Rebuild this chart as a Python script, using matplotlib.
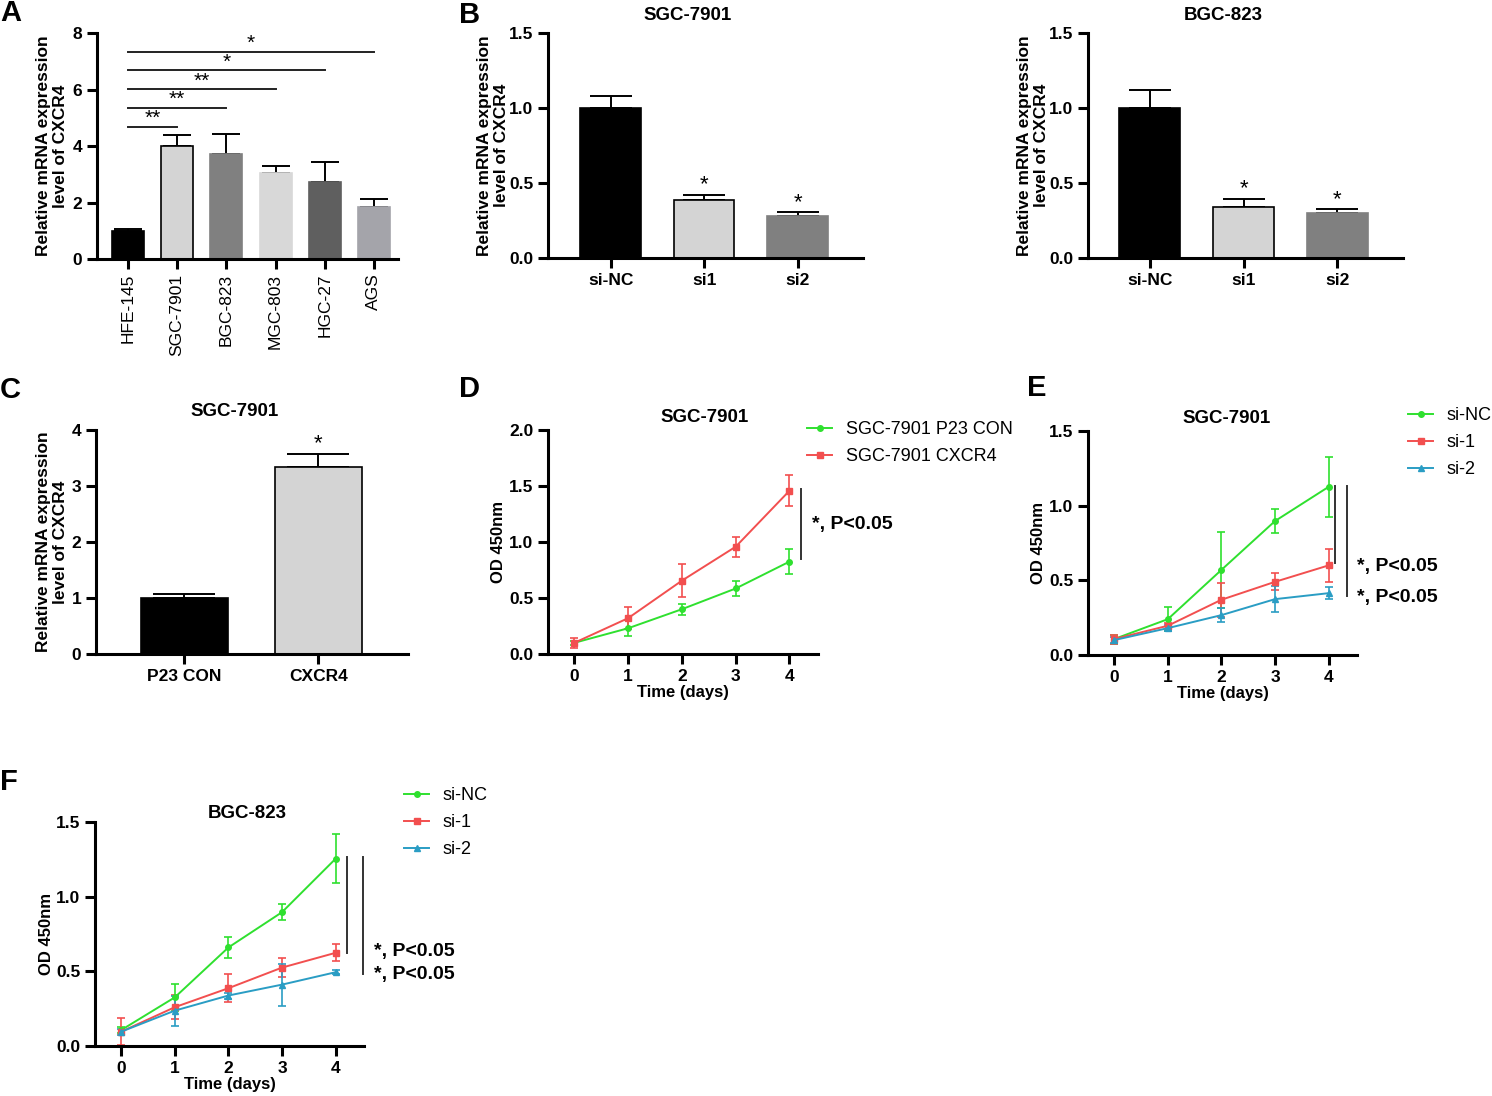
import numpy as np
import matplotlib
matplotlib.use("Agg")
import matplotlib.pyplot as plt

plt.rcParams['font.family'] = ['Liberation Sans', 'DejaVu Sans']

W, H = 1492, 1096

# ---- data ----
# A: CXCR4 expression across cell lines
a_cells = ['HFE-145', 'SGC-7901', 'BGC-823', 'MGC-803', 'HGC-27', 'AGS']
a_vals = [1.0, 3.99, 3.71, 3.04, 2.72, 1.85]
a_errs = [0.06, 0.41, 0.70, 0.26, 0.72, 0.29]
a_colors = ['#000000', '#d4d4d4', '#808080', '#d8d8d8', '#5f5f5f', '#a4a4aa']
a_edges = ['#000000', '#000000', '#808080', '#d8d8d8', '#5f5f5f', '#a4a4aa']
a_sig_to = [1, 2, 3, 4, 5]
a_sig_y = [4.68, 5.35, 6.02, 6.68, 7.34]
a_sig_txt = ['**', '**', '**', '*', '*']

# B: knockdown
b_groups = ['si-NC', 'si1', 'si2']
b1_vals = [1.0, 0.39, 0.28]
b1_errs = [0.08, 0.033, 0.027]
b2_vals = [1.0, 0.34, 0.30]
b2_errs = [0.12, 0.055, 0.026]
b_colors = ['#000000', '#d4d4d4', '#808080']
b_edges = ['#000000', '#000000', '#808080']

# C: overexpression
c_groups = ['P23 CON', 'CXCR4']
c_vals = [1.0, 3.34]
c_errs = [0.08, 0.24]
c_colors = ['#000000', '#d4d4d4']

days = [0, 1, 2, 3, 4]
# D
d_con = [0.10, 0.23, 0.40, 0.585, 0.825]
d_con_err = [0.02, 0.07, 0.05, 0.065, 0.11]
d_cx = [0.10, 0.32, 0.655, 0.958, 1.458]
d_cx_err = [0.045, 0.10, 0.15, 0.09, 0.14]
# E
e_nc = [0.107, 0.24, 0.57, 0.897, 1.126]
e_nc_err = [0.03, 0.08, 0.256, 0.078, 0.20]
e_s1 = [0.107, 0.196, 0.37, 0.49, 0.60]
e_s1_err = [0.03, 0.02, 0.115, 0.058, 0.108]
e_s2 = [0.10, 0.18, 0.267, 0.374, 0.414]
e_s2_err = [0.02, 0.02, 0.045, 0.085, 0.04]
# F
f_nc = [0.107, 0.326, 0.66, 0.896, 1.254]
f_nc_err = [0.02, 0.09, 0.073, 0.054, 0.163]
f_s1 = [0.096, 0.26, 0.387, 0.525, 0.624]
f_s1_err = [0.09, 0.08, 0.094, 0.063, 0.058]
f_s2 = [0.096, 0.237, 0.338, 0.411, 0.494]
f_s2_err = [0.02, 0.10, 0.02, 0.14, 0.015]

GREEN = '#2fe02f'
RED = '#f24f4f'
BLUE = '#2a9dc4'

fig = plt.figure(figsize=(W / 100, H / 100), dpi=100)


def add_ax(l, t, r, b):
    return fig.add_axes([l / W, 1 - b / H, (r - l) / W, (b - t) / H])


def style(ax):
    for s in ['top', 'right']:
        ax.spines[s].set_visible(False)
    for s in ['left', 'bottom']:
        ax.spines[s].set_linewidth(2.2)
    ax.tick_params(width=2.2, length=7, direction='out', labelsize=12.5)
    for lab in ax.get_yticklabels():
        lab.set_fontweight('bold')


def ylab(ax, text, right_px, size=12.5):
    ax.set_ylabel(text, fontsize=size, fontweight='bold', linespacing=1.2)
    pos = ax.get_position()
    l = pos.x0 * W
    w = pos.width * W
    ax.yaxis.set_label_coords((right_px - l) / w, 0.5)


def ftext(x, y, s, **kw):
    fig.text(x / W, 1 - y / H, s, **kw)


def bar_panel(ax, vals, errs, colors, edges, labels, capsize, bold=True):
    x = np.arange(len(vals))
    ax.bar(x, vals, width=0.65, color=colors, edgecolor=edges, linewidth=1.2, zorder=2)
    ax.errorbar(x, vals, yerr=[np.zeros(len(vals)), errs], fmt='none', ecolor='black',
                elinewidth=1.4, capsize=capsize, capthick=1.4, zorder=1)
    ax.set_xticks(x)
    ax.set_xticklabels(labels, fontweight='bold' if bold else 'normal')
    return x


# ---- A ----
axA = add_ax(97, 33, 398, 259)
style(axA)
xa = bar_panel(axA, a_vals, a_errs, a_colors, a_edges, a_cells, 10, bold=False)
axA.set_xlim(-0.63, 5.49)
axA.set_ylim(0, 8)
axA.set_yticks([0, 2, 4, 6, 8])
for lab in axA.get_xticklabels():
    lab.set_rotation(90)
    lab.set_fontsize(12.5)
for j, yy, t in zip(a_sig_to, a_sig_y, a_sig_txt):
    axA.plot([0, j], [yy, yy], color='#222222', lw=1.4, clip_on=False)
    axA.text(j / 2, yy - 0.05, t, ha='center', va='bottom', fontsize=15)
ylab(axA, 'Relative mRNA expression\nlevel of CXCR4', 68)

# ---- B ----
axB1 = add_ax(548, 33, 863, 258)
style(axB1)
xb = bar_panel(axB1, b1_vals, b1_errs, b_colors, b_edges, b_groups, 15)
axB1.set_xlim(-0.67, 2.7)
axB1.set_ylim(0, 1.5)
axB1.set_yticks([0, 0.5, 1.0, 1.5])
axB1.set_yticklabels(['0.0', '0.5', '1.0', '1.5'], fontweight='bold')
for i in [1, 2]:
    axB1.text(xb[i], b1_vals[i] + b1_errs[i] - 0.005, '*', ha='center', va='bottom', fontsize=16)
ylab(axB1, 'Relative mRNA expression\nlevel of CXCR4', 509)
ftext(688, 15, 'SGC-7901', ha='center', va='center', fontsize=13.5, fontweight='bold')

axB2 = add_ax(1088, 33, 1403, 258)
style(axB2)
xb = bar_panel(axB2, b2_vals, b2_errs, b_colors, b_edges, b_groups, 15)
axB2.set_xlim(-0.66, 2.7)
axB2.set_ylim(0, 1.5)
axB2.set_yticks([0, 0.5, 1.0, 1.5])
axB2.set_yticklabels(['0.0', '0.5', '1.0', '1.5'], fontweight='bold')
for i in [1, 2]:
    axB2.text(xb[i], b2_vals[i] + b2_errs[i] - 0.005, '*', ha='center', va='bottom', fontsize=16)
ylab(axB2, 'Relative mRNA expression\nlevel of CXCR4', 1049)
ftext(1223, 15, 'BGC-823', ha='center', va='center', fontsize=13.5, fontweight='bold')

# ---- C ----
axC = add_ax(96, 430, 408, 654)
style(axC)
xc = bar_panel(axC, c_vals, c_errs, c_colors, ['#000000', '#000000'], c_groups, 22)
axC.set_xlim(-0.66, 1.67)
axC.set_ylim(0, 4)
axC.set_yticks([0, 1, 2, 3, 4])
axC.set_yticklabels(['0', '1', '2', '3', '4'], fontweight='bold')
axC.text(xc[1], c_vals[1] + c_errs[1] - 0.02, '*', ha='center', va='bottom', fontsize=16)
ylab(axC, 'Relative mRNA expression\nlevel of CXCR4', 68)
ftext(235, 412, 'SGC-7901', ha='center', va='center', fontsize=13.5, fontweight='bold')


# ---- line panels ----
def series(ax, y, err, color, marker, label, ms):
    ax.errorbar(days, y, yerr=err, fmt='none', ecolor=color, elinewidth=1.2,
                capsize=3, capthick=1.2, zorder=2)
    ax.plot(days, y, color=color, lw=1.4, marker=marker, ms=ms, label=label, zorder=3,
            clip_on=False)


def line_axes(ax, ymax, yticks):
    style(ax)
    ax.set_xlim(-0.49, 4.53)
    ax.set_ylim(0, ymax)
    ax.set_xticks(days)
    ax.set_xticklabels([str(d) for d in days], fontweight='bold')
    ax.set_yticks(yticks)
    ax.set_yticklabels(['%.1f' % v for v in yticks], fontweight='bold')
    ax.set_xlabel('Time (days)', fontsize=12, fontweight='bold', labelpad=1)


def sig(ax, x, y0, y1):
    ax.plot([x, x], [y0, y1], color='#333333', lw=1.4, clip_on=False)


def sigtext(ax, x, y):
    ax.text(x, y, '*, P<0.05', ha='left', va='center', fontsize=14, fontweight='bold',
            clip_on=False)


def legend(ax, x, y):
    ax.legend(loc='upper left', bbox_to_anchor=(x / W, 1 - y / H), bbox_transform=fig.transFigure,
              frameon=False, fontsize=13, borderpad=0, borderaxespad=0, handlelength=1.4,
              handletextpad=0.75, labelspacing=0.55)


# D
axD = add_ax(548, 430, 818, 654)
line_axes(axD, 2.0, [0, 0.5, 1.0, 1.5, 2.0])
series(axD, d_con, d_con_err, GREEN, 'o', 'SGC-7901 P23 CON', 4)
series(axD, d_cx, d_cx_err, RED, 's', 'SGC-7901 CXCR4', 4)
sig(axD, 4.22, 0.85, 1.47)
sigtext(axD, 4.42, 1.16)
legend(axD, 807, 421)
ylab(axD, 'OD 450nm', 506, size=12)
ftext(705, 417, 'SGC-7901', ha='center', va='center', fontsize=13.5, fontweight='bold')

# E
axE = add_ax(1088, 431, 1357, 655)
line_axes(axE, 1.5, [0, 0.5, 1.0, 1.5])
series(axE, e_nc, e_nc_err, GREEN, 'o', 'si-NC', 4)
series(axE, e_s1, e_s1_err, RED, 's', 'si-1', 4)
series(axE, e_s2, e_s2_err, BLUE, '^', 'si-2', 4)
sig(axE, 4.125, 0.614, 1.133)
sig(axE, 4.35, 0.392, 1.133)
sigtext(axE, 4.53, 0.592)
sigtext(axE, 4.53, 0.387)
legend(axE, 1408, 407)
ylab(axE, 'OD 450nm', 1046, size=12)
ftext(1227, 418, 'SGC-7901', ha='center', va='center', fontsize=13.5, fontweight='bold')

# F
axF = add_ax(95, 822, 364, 1046)
line_axes(axF, 1.5, [0, 0.5, 1.0, 1.5])
series(axF, f_nc, f_nc_err, GREEN, 'o', 'si-NC', 4)
series(axF, f_s1, f_s1_err, RED, 's', 'si-1', 4)
series(axF, f_s2, f_s2_err, BLUE, '^', 'si-2', 4)
sig(axF, 4.22, 0.626, 1.265)
sig(axF, 4.52, 0.48, 1.265)
sigtext(axF, 4.71, 0.633)
sigtext(axF, 4.71, 0.476)
legend(axF, 404, 787)
ylab(axF, 'OD 450nm', 54, size=12)
ftext(247, 814, 'BGC-823', ha='center', va='center', fontsize=13.5, fontweight='bold')

# panel letters
for letter, x, y in [('A', 0, 13), ('B', 459, 15), ('C', 0, 390), ('D', 459, 389),
                     ('E', 1027, 388), ('F', 0, 782)]:
    ftext(x, y, letter, ha='left', va='center', fontsize=21, fontweight='bold')

fig.savefig('out.png', dpi=100)
